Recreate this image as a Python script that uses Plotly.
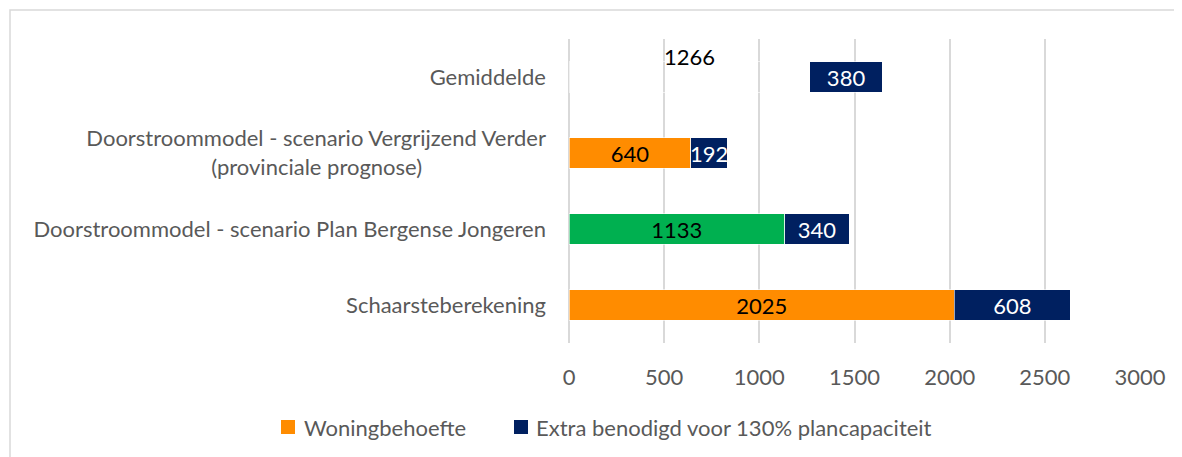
import plotly.graph_objects as go

categories = [
    "Schaarsteberekening",
    "Doorstroommodel - scenario Plan Bergense Jongeren",
    "Doorstroommodel - scenario Vergrijzend Verder<br>(provinciale prognose)" + "\u00a0" * 22,
    "Gemiddelde",
]
woningbehoefte = [2025, 1133, 640, 1266]
extra = [608, 340, 192, 380]
woning_colors = ["#FF8C00", "#00B050", "#FF8C00", "rgba(0,0,0,0)"]
woning_labels = ["2025", "1133", "640", ""]
extra_labels = ["608", "340", "192", "380"]
tick_vals = [0, 500, 1000, 1500, 2000, 2500, 3000]
series_names = ["Woningbehoefte", "Extra benodigd voor 130% plancapaciteit"]
series_colors = ["#FF8C00", "#002060"]

FONT = "Lato"
GRAY = "#595959"
FS = 22

# layout geometry (page pixels; the page adds an 8 px body margin)
OFF = 8
PLOT_L, PLOT_T, PLOT_W, PLOT_H = 569, 39, 571, 304


def px_x(p):
    return (p - PLOT_L) / PLOT_W


def px_y(p):
    return (PLOT_T + PLOT_H - p) / PLOT_H


fig = go.Figure()
fig.add_trace(go.Bar(
    y=categories, x=woningbehoefte, orientation="h", name=series_names[0],
    marker=dict(color=woning_colors, line=dict(color="rgba(255,255,255,0.6)", width=1)),
    text=woning_labels, textposition="inside", insidetextanchor="middle",
    textfont=dict(color="black", size=FS, family=FONT), width=0.4,
))
fig.add_trace(go.Bar(
    y=categories, x=extra, orientation="h", name=series_names[1],
    marker=dict(color=series_colors[1], line=dict(color="rgba(255,255,255,0.6)", width=1)),
    text=extra_labels, textposition="inside", insidetextanchor="middle",
    textfont=dict(color="white", size=FS, family=FONT), width=0.4,
))
# label of the unfilled Gemiddelde segment
fig.add_annotation(x=woningbehoefte[3] / 2, y=categories[3], text=str(woningbehoefte[3]),
                   showarrow=False, yshift=21, font=dict(color="black", size=FS, family=FONT))

# outer chart border
fig.add_shape(type="rect", xref="paper", yref="paper", x0=px_x(10), x1=1.2, y0=-0.6, y1=px_y(10),
              line=dict(color="#d9d9d9", width=1.5), fillcolor="rgba(0,0,0,0)", layer="below")

# legend (drawn manually to match the compact symbol/text spacing)
legend_sq_x = [281, 514]
legend_txt_x = [302, 534]
LEG_Y = 427
for name, col, sx, tx in zip(series_names, series_colors, legend_sq_x, legend_txt_x):
    fig.add_shape(type="rect", xref="paper", yref="paper",
                  x0=px_x(sx), x1=px_x(sx + 14), y0=px_y(LEG_Y - 7), y1=px_y(LEG_Y + 7),
                  line=dict(width=0), fillcolor=col)
    fig.add_annotation(xref="paper", yref="paper", x=px_x(tx), y=px_y(LEG_Y), text=name,
                       showarrow=False, xanchor="left", yanchor="middle",
                       font=dict(size=FS, color=GRAY, family=FONT))

fig.update_layout(
    barmode="stack",
    width=1182 - OFF, height=457 - OFF,
    margin=dict(l=PLOT_L - OFF, r=1182 - PLOT_L - PLOT_W, t=PLOT_T - OFF, b=457 - PLOT_T - PLOT_H),
    paper_bgcolor="white", plot_bgcolor="white",
    font=dict(family=FONT, size=FS, color=GRAY),
    uniformtext=dict(mode="show", minsize=FS),
    xaxis=dict(range=[0, 3000], tickvals=tick_vals, showgrid=True, gridcolor="#d9d9d9", gridwidth=1.5,
               zeroline=True, zerolinecolor="#d9d9d9", zerolinewidth=1.5, showline=False,
               ticklabelstandoff=19, tickfont=dict(size=FS, color=GRAY, family=FONT), fixedrange=True),
    yaxis=dict(showgrid=False, showline=False, ticklabelstandoff=22,
               tickfont=dict(size=FS, color=GRAY, family=FONT)),
    showlegend=False,
)
fig.write_html("out.html")
